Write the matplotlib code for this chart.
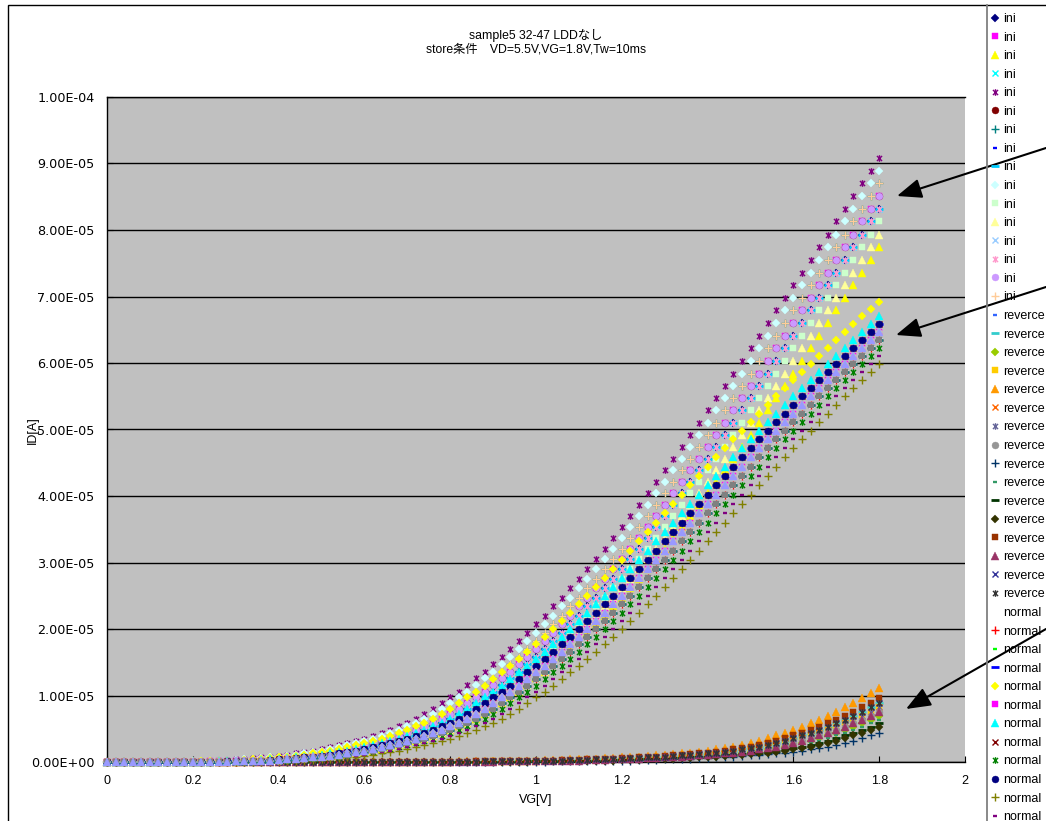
import numpy as np
import matplotlib.pyplot as plt
from matplotlib.path import Path
from matplotlib.lines import Line2D
from matplotlib.patches import Rectangle

plt.rcParams['font.family'] = ['Liberation Sans', 'Noto Sans CJK JP']

W, H = 1046, 821

# gate voltage sweep, 0 .. 1.8 V in 0.02 V steps
vg = np.round(np.arange(0, 1.8001, 0.02), 2)

# ID in uA. Inside one group the curves have the same shape and
# are only displaced along VG, so each group keeps one list of its non-zero points
# and each series gives how many of its first points read 0.
ini_points = [
    0.1, 0.1, 0.1, 0.2, 0.2, 0.3, 0.4, 0.5, 0.6, 0.7,
    0.8, 0.9, 1.1, 1.3, 1.5, 1.7, 1.9, 2.2, 2.5, 2.8,
    3.2, 3.5, 3.9, 4.4, 4.8, 5.4, 5.9, 6.5, 7.2, 8.0,
    8.8, 9.7, 10.6, 11.6, 12.6, 13.6, 14.7, 15.8, 17.0, 18.2,
    19.4, 20.7, 22.0, 23.4, 24.7, 26.1, 27.5, 29.0, 30.6, 32.1,
    33.7, 35.4, 37.0, 38.7, 40.4, 42.1, 43.9, 45.6, 47.4, 49.2,
    51.0, 52.9, 54.7, 56.6, 58.4, 60.3, 62.2, 64.1, 66.0, 67.9,
    69.8, 71.7, 73.6, 75.5, 77.4, 79.3, 81.3, 83.2, 85.1, 87.0,
    88.9, 90.8]
normal_points = [
    0.1, 0.1, 0.1, 0.2, 0.2, 0.3, 0.4, 0.5, 0.6, 0.7,
    0.8, 0.9, 1.1, 1.3, 1.5, 1.7, 1.9, 2.2, 2.5, 2.8,
    3.2, 3.5, 3.9, 4.4, 4.8, 5.4, 5.9, 6.5, 7.2, 8.0,
    8.8, 9.7, 10.6, 11.5, 12.5, 13.5, 14.5, 15.5, 16.6, 17.7,
    18.8, 20.0, 21.2, 22.4, 23.7, 25.0, 26.3, 27.6, 29.0, 30.4,
    31.8, 33.2, 34.6, 36.0, 37.4, 38.8, 40.2, 41.6, 43.0, 44.4,
    45.8, 47.2, 48.5, 49.8, 51.1, 52.4, 53.7, 55.0, 56.2, 57.4,
    58.7, 59.9, 61.1, 62.3, 63.5, 64.7, 65.8, 67.0, 68.1, 69.2]
reverce_points = [
    0.1, 0.1, 0.1, 0.1, 0.1, 0.1, 0.2, 0.2, 0.2, 0.2,
    0.3, 0.3, 0.3, 0.4, 0.4, 0.5, 0.5, 0.6, 0.6, 0.7,
    0.7, 0.8, 0.9, 1.0, 1.1, 1.2, 1.3, 1.4, 1.5, 1.7,
    1.9, 2.1, 2.3, 2.6, 2.9, 3.2, 3.6, 4.0, 4.4, 4.8,
    5.3, 5.8, 6.3, 6.9, 7.5, 8.2, 8.9, 9.6, 10.4, 11.2]

ini_lead = [13, 12, 16, 13, 9, 12, 11, 14, 13, 10, 14, 15, 13, 13, 12, 11]
reverce_lead = [46, 44, 47, 45, 41, 45, 45, 46, 52, 48, 49, 50, 43, 46, 44, 44]
normal_lead = [16, 16, 15, 14, 11, 15, 13, 14, 17, 14, 19, 18, 16, 15, 16, 15]

# Excel default series colours, in series order
ini_colors = ['#000080', '#FF00FF', '#FFFF00', '#00FFFF', '#800080', '#800000',
              '#008080', '#0000FF', '#00CCFF', '#CCFFFF', '#CCFFCC', '#FFFF99',
              '#99CCFF', '#FF99CC', '#CC99FF', '#FFCC99']
reverce_colors = ['#3366FF', '#33CCCC', '#99CC00', '#FFCC00', '#FF9900', '#FF6600',
                  '#666699', '#969696', '#003366', '#339966', '#003300', '#333300',
                  '#993300', '#993366', '#333399', '#333333']
normal_colors = ['#FFFFFF', '#FF0000', '#00FF00', '#0000FF', '#FFFF00', '#FF00FF',
                 '#00FFFF', '#800000', '#008000', '#000080', '#808000', '#800080',
                 '#008080', '#C0C0C0', '#808080', '#9999FF']
marker_cycle = ['D', 's', '^', 'x', 'star', 'o', '+', 'sdash', 'ldash']

x_ticks = [0, 0.2, 0.4, 0.6, 0.8, 1.0, 1.2, 1.4, 1.6, 1.8, 2.0]
x_tick_labels = ['0', '0.2', '0.4', '0.6', '0.8', '1', '1.2', '1.4', '1.6', '1.8', '2']
y_ticks = [0, 1e-5, 2e-5, 3e-5, 4e-5, 5e-5, 6e-5, 7e-5, 8e-5, 9e-5, 1e-4]
y_tick_labels = ['0.00E+00', '1.00E-05', '2.00E-05', '3.00E-05', '4.00E-05', '5.00E-05',
                 '6.00E-05', '7.00E-05', '8.00E-05', '9.00E-05', '1.00E-04']

STAR = Path([(-1, -1), (1, 1), (-1, 1), (1, -1), (0, -1.3), (0, 1.3)],
            [Path.MOVETO, Path.LINETO] * 3)
styles = {
    'D': dict(marker='D', ms=4.0, mew=0.3),
    's': dict(marker='s', ms=4.6, mew=0.3),
    '^': dict(marker='^', ms=5.6, mew=0.3),
    'x': dict(marker='x', ms=4.3, mew=1.0),
    'star': dict(marker=STAR, ms=4.8, mew=1.0),
    'o': dict(marker='o', ms=5.0, mew=0.3),
    '+': dict(marker='+', ms=5.3, mew=1.0),
    'sdash': dict(marker='_', ms=3.2, mew=1.7),
    'ldash': dict(marker='_', ms=5.8, mew=2.0),
}


def series_values(points, lead):
    n = len(vg) - lead
    return np.array([0.0] * lead + points[:n]) * 1e-6


series = []
for label, points, leads, colors in [('ini', ini_points, ini_lead, ini_colors),
                                     ('reverce', reverce_points, reverce_lead, reverce_colors),
                                     ('normal', normal_points, normal_lead, normal_colors)]:
    for lead, color in zip(leads, colors):
        series.append((label, series_values(points, lead), color))

fig = plt.figure(figsize=(W / 100, H / 100), dpi=100)
ax = fig.add_axes([107 / W, 1 - 762 / H, (965 - 107) / W, (762 - 97) / H])
ax.set_facecolor('#C0C0C0')

handles, labels = [], []
for i, (label, y, color) in enumerate(series):
    st = styles[marker_cycle[i % 9]]
    ax.plot(vg, y, ls='none', color=color, mfc=color, mec=color,
            clip_on=False, zorder=3 + i * 0.01, **st)
    handles.append(Line2D([], [], ls='none', color=color, mfc=color, mec=color, **st))
    labels.append(label)

ax.set_xlim(0, 2)
ax.set_ylim(0, 1e-4)
ax.set_xticks(x_ticks)
ax.set_xticklabels(x_tick_labels)
ax.set_yticks(y_ticks)
ax.set_yticklabels(y_tick_labels, family=['DejaVu Sans'])
ax.yaxis.grid(True, color='black', lw=1.0)
ax.set_axisbelow(True)
ax.tick_params(axis='x', direction='in', length=4, pad=9, labelsize=9)
ax.tick_params(axis='y', direction='in', length=4, pad=9, labelsize=9.2)
ax.spines['right'].set_visible(False)
for s in ['left', 'bottom', 'top']:
    ax.spines[s].set_color('black')
    ax.spines[s].set_linewidth(1.0)

fig.text(536 / W, 1 - 35 / H, 'sample5 32-47 LDDなし', ha='center', va='center', fontsize=8.8)
fig.text(536 / W, 1 - 50 / H, 'store条件\u3000VD=5.5V,VG=1.8V,Tw=10ms',
         ha='center', va='center', fontsize=8.8)
fig.text(33 / W, 1 - 430 / H, 'ID[A]', rotation=90, ha='center', va='center', fontsize=9)
fig.text(536 / W, 1 - 800 / H, 'VG[V]', ha='center', va='center', fontsize=9)

# chart border and legend box edge
fig.add_artist(Rectangle((8 / W, -0.02), 1.0, 1 - 5 / H + 0.02, transform=fig.transFigure,
                         fill=False, ec='black', lw=1.0))
fig.add_artist(Line2D([987 / W, 987 / W], [0, 1 - 5 / H], transform=fig.transFigure,
                      color='#808080', lw=1.3))

# only the entries that fit above the bottom edge are visible in the chart
n_shown = 44
fig.legend(handles[:n_shown], labels[:n_shown], loc='upper left',
           bbox_to_anchor=(991 / W, 1 - 13 / H),
           frameon=False, fontsize=9, handlelength=0.6, handletextpad=0.35,
           labelspacing=0.525, borderaxespad=0, borderpad=0)

# arrows coming from the (cut off) note boxes on the right
for tail, head in [((1046, 148), (897, 196)), ((1046, 287), (896, 335)),
                   ((1046, 629), (906, 709))]:
    ax.annotate('', xy=(head[0], H - head[1]), xytext=(tail[0], H - tail[1]),
                xycoords='figure pixels', textcoords='figure pixels',
                arrowprops=dict(arrowstyle='-|>,head_length=1.0,head_width=0.4',
                                color='black', lw=1.5, mutation_scale=15,
                                shrinkA=0, shrinkB=0),
                annotation_clip=False, zorder=20)

fig.savefig('out.png', dpi=100)
